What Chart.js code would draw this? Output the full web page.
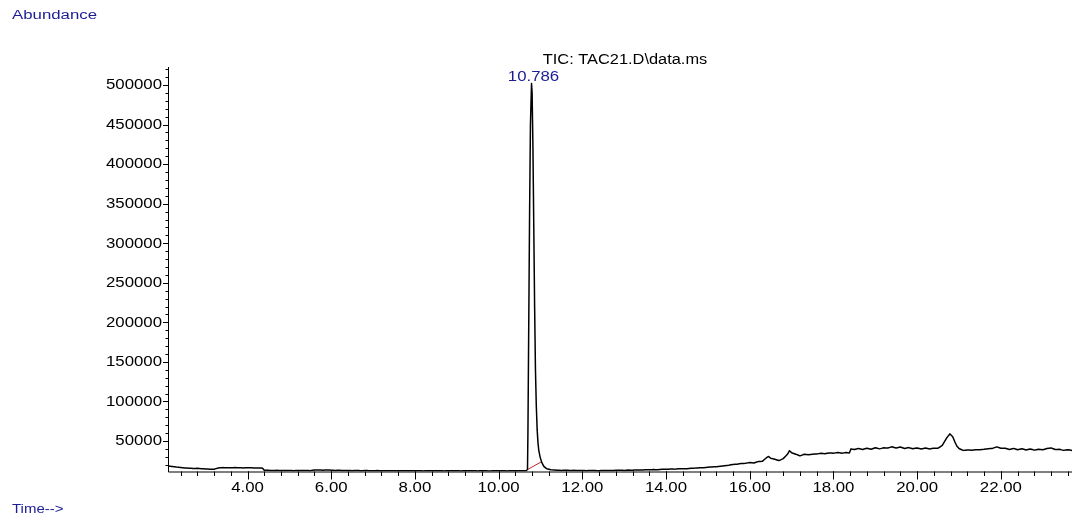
<!DOCTYPE html>
<html>
<head>
<meta charset="utf-8">
<script src="https://cdn.jsdelivr.net/npm/chart.js@4"></script>
<style>
  html, body { margin: 0; padding: 0; background: #fff; }
  canvas { display: block; }
</style>
</head>
<body>
<canvas id="tic" width="1073" height="518"></canvas>
<script>
// retention time (min) and TIC abundance
const times = [
  2.1, 2.2, 2.3, 2.4, 2.5, 2.6, 2.7, 2.8, 2.9, 3.0, 3.1, 3.2, 3.3, 3.4, 3.5, 3.6, 3.7, 3.8, 3.9, 4.0,
  4.1, 4.2, 4.3, 4.36, 4.4, 4.5, 4.6, 4.7, 4.8, 4.9, 5.0, 5.1, 5.2, 5.3, 5.4, 5.5, 5.6, 5.7, 5.8, 5.9,
  6.0, 6.1, 6.2, 6.3, 6.4, 6.5, 6.6, 6.7, 6.8, 6.9, 7.0, 7.1, 7.2, 7.3, 7.4, 7.5, 7.6, 7.7, 7.8, 7.9,
  8.0, 8.1, 8.2, 8.3, 8.4, 8.5, 8.6, 8.7, 8.8, 8.9, 9.0, 9.1, 9.2, 9.3, 9.4, 9.5, 9.6, 9.7, 9.8, 9.9,
  10.0, 10.1, 10.2, 10.3, 10.4, 10.5, 10.6, 10.66, 10.69, 10.70, 10.72, 10.74, 10.76, 10.786,
  10.80, 10.82, 10.84, 10.86, 10.88, 10.90, 10.92, 10.94, 10.96, 10.99, 11.03, 11.08, 11.15, 11.25,
  11.4, 11.5, 11.6, 11.7, 11.8, 11.9, 12.0, 12.1, 12.2, 12.3, 12.4, 12.5, 12.6, 12.7, 12.8, 12.9,
  13.0, 13.1, 13.2, 13.3, 13.4, 13.5, 13.6, 13.7, 13.8, 13.9, 14.0, 14.1, 14.2, 14.3, 14.4, 14.5,
  14.6, 14.7, 14.8, 14.9, 15.0, 15.1, 15.2, 15.3, 15.4, 15.5, 15.6, 15.7, 15.8, 15.9, 16.0, 16.1,
  16.2, 16.3, 16.4, 16.45, 16.5, 16.6, 16.7, 16.8, 16.9, 16.95, 17.0, 17.1, 17.2, 17.3, 17.4, 17.5,
  17.6, 17.7, 17.8, 17.9, 18.0, 18.1, 18.2, 18.3, 18.38, 18.42, 18.5, 18.6, 18.7, 18.8, 18.9, 19.0,
  19.1, 19.2, 19.3, 19.4, 19.5, 19.6, 19.7, 19.8, 19.9, 20.0, 20.1, 20.2, 20.3, 20.4, 20.5, 20.6,
  20.7, 20.78, 20.85, 20.9, 20.95, 21.0, 21.1, 21.2, 21.3, 21.4, 21.5, 21.6, 21.7, 21.8, 21.9, 22.0,
  22.1, 22.2, 22.3, 22.4, 22.5, 22.6, 22.7, 22.8, 22.9, 23.0, 23.1, 23.2, 23.3, 23.4, 23.5, 23.6, 23.7
];
const abundance = [
  18600, 17900, 17100, 16600, 16000, 15700, 15300, 15500, 15000, 14800, 14500, 14300, 15900, 16400, 16300, 16100, 16400, 16200, 16000, 16300,
  16100, 15800, 15900, 15700, 13100, 13000, 12800, 13000, 12700, 12900, 12800, 12600, 12900, 12700, 12800, 12600, 13300, 13500, 13200, 13400,
  13100, 12900, 13000, 12700, 12900, 12600, 12800, 12500, 12700, 12600, 12400, 12700, 12500, 12600, 12300, 12600, 12400, 12500, 12300, 12600,
  12400, 12500, 12200, 12500, 12400, 12300, 12500, 12200, 12400, 12300, 12500, 12200, 12400, 12300, 12500, 12200, 12400, 12300, 12200, 12400,
  12300, 12500, 12200, 12400, 12300, 12500, 12400, 12700, 14000, 60000, 200000, 340000, 450000, 502000,
  490000, 420000, 320000, 220000, 140000, 95000, 65000, 48000, 38000, 30000, 23000, 18000, 15000, 13800,
  13200, 12900, 13100, 12800, 13000, 12700, 12900, 12600, 12900, 12700, 12500, 12800, 12900, 12700, 13000, 13200,
  12900, 13300, 13100, 13500, 13300, 13700, 13600, 13900, 13800, 14200, 14300, 14600, 14500, 14900, 15100, 15000,
  15600, 15800, 16300, 16200, 16900, 17300, 17600, 18200, 18900, 19500, 20400, 20800, 21600, 21900, 22900, 22300,
  24000, 24300, 28900, 30500, 28300, 26900, 25300, 27800, 33200, 37800, 35300, 33400, 31200, 33300, 32600, 33400,
  33700, 34500, 34000, 35000, 34500, 35600, 34600, 35500, 34800, 40100, 39200, 40700, 39400, 40900, 39600, 41500,
  40100, 41400, 41300, 42700, 41200, 42400, 40500, 41700, 40200, 41300, 39900, 41200, 39900, 41000, 40900, 44500,
  53500, 59000, 55500, 49000, 43500, 40500, 38200, 38700, 38400, 39000, 38900, 39500, 40300, 40700, 42600, 41000,
  41000, 39400, 40700, 39000, 40200, 38800, 40000, 38500, 39700, 38900, 40500, 41300, 39300, 39500, 38200, 39100, 38000
];

// integration baseline under the main peak
const baseTimes = [10.675, 11.03];
const baseValues = [13500, 24000];

const peakTime = 10.786;
const peakLabel = '10.786';
const titleText = 'TIC: TAC21.D\\data.ms';

const xTickValues = [4, 6, 8, 10, 12, 14, 16, 18, 20, 22];
const xTickLabels = ['4.00', '6.00', '8.00', '10.00', '12.00', '14.00', '16.00', '18.00', '20.00', '22.00'];
const yTickValues = [50000, 100000, 150000, 200000, 250000, 300000, 350000, 400000, 450000, 500000];
const yTickLabels = ['50000', '100000', '150000', '200000', '250000', '300000', '350000', '400000', '450000', '500000'];

const FONT = '"Liberation Sans", Arial, sans-serif';
const BLUE = '#1c1c96';

function stretchText(ctx, text, x, y, align, sx, size, color, baseline) {
    ctx.save();
    ctx.translate(x, y);
    ctx.scale(sx, 1);
    ctx.font = size + 'px ' + FONT;
    ctx.fillStyle = color;
    ctx.textAlign = align;
    ctx.textBaseline = baseline || 'alphabetic';
    ctx.fillText(text, 0, 0);
    ctx.restore();
}

// axes, ticks and all the text are drawn here
const axesPlugin = {
    id: 'chemAxes',
    afterDatasetsDraw(chart) {
        const ctx = chart.ctx;
        const xs = chart.scales.x;
        const ys = chart.scales.y;
        const a = chart.chartArea;

        ctx.save();
        ctx.strokeStyle = '#000';
        ctx.lineWidth = 1;
        ctx.beginPath();
        ctx.moveTo(a.left + 0.5, a.top);
        ctx.lineTo(a.left + 0.5, a.bottom + 0.5);
        ctx.lineTo(a.right, a.bottom + 0.5);
        ctx.stroke();

        // x minor ticks every 0.4 min
        ctx.beginPath();
        for (let t = 2.4; t < xs.max; t += 0.4) {
            const px = Math.round(xs.getPixelForValue(t)) + 0.5;
            ctx.moveTo(px, a.bottom);
            ctx.lineTo(px, a.bottom + 4.5);
        }
        xTickValues.forEach(v => {
            const px = Math.round(xs.getPixelForValue(v)) + 0.5;
            ctx.moveTo(px, a.bottom);
            ctx.lineTo(px, a.bottom + 8);
        });
        // y minor ticks every 10000
        for (let v = 20000; v <= ys.max; v += 10000) {
            const py = Math.round(ys.getPixelForValue(v)) + 0.5;
            ctx.moveTo(a.left, py);
            ctx.lineTo(a.left - 2.5, py);
        }
        yTickValues.forEach(v => {
            const py = Math.round(ys.getPixelForValue(v)) + 0.5;
            ctx.moveTo(a.left, py);
            ctx.lineTo(a.left - 5, py);
        });
        ctx.stroke();
        ctx.restore();

        xTickValues.forEach((v, i) => {
            stretchText(ctx, xTickLabels[i], xs.getPixelForValue(v), a.bottom + 20.5, 'center', 1.2, 14, '#000');
        });
        yTickValues.forEach((v, i) => {
            stretchText(ctx, yTickLabels[i], a.left - 6, ys.getPixelForValue(v) + 0.5, 'right', 1.2, 14, '#000', 'middle');
        });

        stretchText(ctx, titleText, 625, 64, 'center', 1.17, 14, '#000');
        stretchText(ctx, peakLabel, xs.getPixelForValue(peakTime) + 2, 81, 'center', 1.2, 14, BLUE);
        stretchText(ctx, 'Abundance', 12, 19, 'left', 1.4, 12, BLUE);
        stretchText(ctx, 'Time-->', 12, 513, 'left', 1.25, 12, BLUE);
    }
};

const zeroFit = function (scale) { scale.width = 0; scale.height = 0; };

new Chart(document.getElementById('tic').getContext('2d'), {
    type: 'line',
    data: {
        datasets: [
            {
                data: times.map((t, i) => ({ x: t, y: abundance[i] })),
                borderColor: '#000',
                borderWidth: 1.5,
                borderJoinStyle: 'round',
                pointRadius: 0,
                // tiny tension keeps Chart.js off its pixel-merging fast path
                tension: 0.0001
            },
            {
                data: baseTimes.map((t, i) => ({ x: t, y: baseValues[i] })),
                borderColor: '#b8282a',
                borderWidth: 1,
                pointRadius: 0,
                tension: 0
            }
        ]
    },
    options: {
        responsive: false,
        animation: false,
        devicePixelRatio: 1,
        layout: { padding: { left: 168, right: 1, top: 67, bottom: 46.5 } },
        plugins: {
            legend: { display: false },
            tooltip: { enabled: false }
        },
        scales: {
            x: {
                type: 'linear',
                min: 2.1,
                max: 23.7,
                ticks: { display: false },
                grid: { display: false },
                border: { display: false },
                afterFit: zeroFit
            },
            y: {
                min: 11500,
                max: 522750,
                ticks: { display: false },
                grid: { display: false },
                border: { display: false },
                afterFit: zeroFit
            }
        }
    },
    plugins: [axesPlugin]
});
</script>
</body>
</html>
